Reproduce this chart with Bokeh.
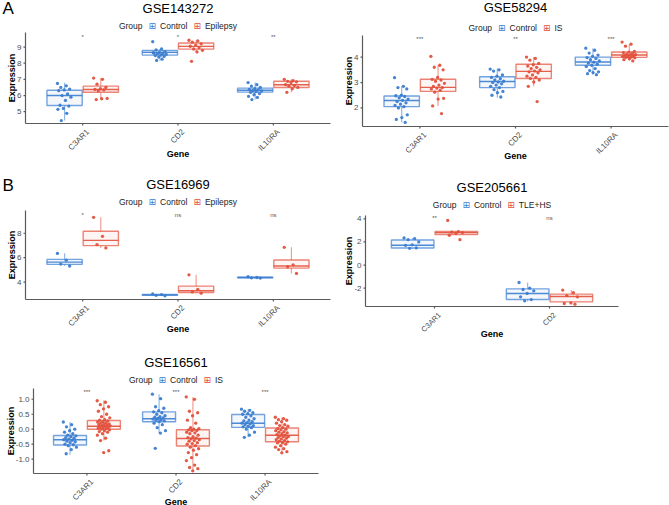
import math
from bokeh.plotting import figure
from bokeh.models import Range1d, ColumnDataSource
from bokeh.layouts import column, row
from bokeh.embed import file_html
from bokeh.resources import INLINE
from bokeh.core.properties import value

FONT = "Liberation Sans"
ICON_FONT = "DejaVu Sans"
BLUE = "#3B7DD0"
RED = "#E2513C"
AXIS = "#5A5A5A"
TICKTXT = "#4D4D4D"

GENES3 = ["C3AR1", "CD2", "IL10RA"]
GENES2 = ["C3AR1", "CD2"]

# ---------------- GSE143272 ----------------
A1_groups = ["Control", "Epilepsy"]
A1_sig = ["*", "*", "**"]
A1_yrange = [4.27, 9.90]
A1_yticks = [5, 6, 7, 8, 9]
# (lower whisker, q1, median, q3, upper whisker) per gene
A1_control_box = [(4.46, 5.38, 6.00, 6.33, 6.79), (8.17, 8.50, 8.67, 8.79, 8.88), (5.75, 6.21, 6.33, 6.46, 6.80)]
A1_case_box = [(5.75, 6.20, 6.37, 6.58, 7.08), (8.70, 8.87, 9.04, 9.25, 9.42), (6.21, 6.50, 6.67, 6.88, 7.00)]
A1_control_pts = [
    [6.75, 6.6, 6.5, 6.4, 6.35, 6.3, 6.1, 6.0, 5.9, 5.7, 5.4, 5.35, 5.2, 5.15, 4.9, 4.45],
    [9.33, 8.88, 8.83, 8.72, 8.67, 8.63, 8.6, 8.58, 8.55, 8.5, 8.47, 8.42, 8.38, 8.65, 8.25, 8.17],
    [6.8, 6.67, 6.58, 6.5, 6.42, 6.38, 6.35, 6.3, 6.28, 6.25, 6.2, 6.12, 6.05, 5.95, 5.88, 5.75],
]
A1_case_pts = [
    [7.08, 7.0, 6.7, 6.5, 6.42, 6.38, 6.35, 6.3, 5.82, 5.8, 5.75],
    [9.42, 9.38, 9.3, 9.2, 9.12, 9.05, 8.95, 8.88, 8.8, 8.7, 8.12],
    [7.0, 6.92, 6.88, 6.85, 6.8, 6.67, 6.62, 6.58, 6.5, 6.42, 6.2],
]

# ---------------- GSE58294 ----------------
A2_groups = ["Control", "IS"]
A2_sig = ["***", "**", "***"]
A2_yrange = [1.27, 4.85]
A2_yticks = [2, 3, 4]
A2_control_box = [(1.43, 2.05, 2.29, 2.47, 2.85), (2.40, 2.80, 3.04, 3.23, 3.55), (3.31, 3.68, 3.81, 4.00, 4.35)]
A2_case_box = [(2.08, 2.65, 2.81, 3.13, 3.68), (2.85, 3.16, 3.44, 3.72, 4.00), (3.85, 3.99, 4.08, 4.20, 4.51)]
A2_control_pts = [
    [3.19, 2.85, 2.8, 2.75, 2.5, 2.48, 2.45, 2.4, 2.35, 2.3, 2.25, 2.2, 2.15, 2.1, 2.05, 2.0, 1.73, 1.62, 1.55, 1.43],
    [3.53, 3.5, 3.45, 3.3, 3.25, 3.2, 3.15, 3.1, 3.05, 3.02, 3.0, 2.95, 2.9, 2.85, 2.8, 2.72, 2.65, 2.6, 2.5, 2.43],
    [4.35, 4.27, 4.16, 4.08, 4.03, 3.98, 3.95, 3.9, 3.85, 3.8, 3.76, 3.72, 3.68, 3.63, 3.55, 3.47, 3.42, 3.39, 3.35, 3.31],
]
A2_case_pts = [
    [4.03, 3.68, 3.6, 3.5, 3.2, 3.12, 3.1, 3.05, 2.97, 2.9, 2.85, 2.8, 2.78, 2.75, 2.7, 2.62, 2.38, 2.35, 2.08, 1.78],
    [4.0, 3.95, 3.88, 3.75, 3.7, 3.65, 3.6, 3.55, 3.5, 3.45, 3.42, 3.38, 3.3, 3.25, 3.2, 3.16, 3.1, 3.02, 2.85, 2.25],
    [4.59, 4.51, 4.43, 4.22, 4.2, 4.18, 4.15, 4.12, 4.1, 4.09, 4.07, 4.05, 4.03, 4.02, 4.0, 3.99, 3.97, 3.94, 3.9, 3.85],
]

# ---------------- GSE16969 ----------------
B1_groups = ["Control", "Epilepsy"]
B1_sig = ["*", "ns", "ns"]
B1_yrange = [2.58, 9.86]
B1_yticks = [4, 6, 8]
B1_control_box = [(5.32, 5.45, 5.64, 5.86, 6.36), (2.88, 2.92, 2.96, 3.00, 3.04), (4.33, 4.36, 4.38, 4.40, 4.44)]
B1_case_box = [(6.80, 6.99, 7.42, 8.16, 9.30), (3.10, 3.15, 3.29, 3.67, 4.60), (4.71, 5.15, 5.32, 5.81, 6.85)]
B1_control_pts = [[6.35, 5.8, 5.48, 5.32], [3.04, 2.98, 2.92, 2.88], [4.44, 4.38, 4.35, 4.33]]
B1_case_pts = [[9.3, 7.75, 7.07, 6.8], [4.6, 3.4, 3.2, 3.1], [6.85, 5.42, 5.26, 4.71]]

# ---------------- GSE205661 ----------------
B2_groups = ["Control", "TLE+HS"]
B2_sig = ["**", "ns"]
B2_yrange = [-3.59, 4.29]
B2_yticks = [-2, 0, 2, 4]
B2_control_box = [(1.42, 1.48, 1.71, 2.17, 2.35), (-3.16, -2.99, -2.46, -2.06, -1.51)]
B2_case_box = [(2.58, 2.64, 2.81, 2.90, 2.92), (-3.39, -3.19, -2.72, -2.52, -2.17)]
B2_control_pts = [[2.35, 2.29, 2.2, 2.0, 1.75, 1.71, 1.48, 1.45],
                  [-1.51, -2.0, -2.12, -2.23, -2.46, -2.75, -2.99, -3.1]]
B2_case_pts = [[3.86, 2.9, 2.85, 2.81, 2.75, 2.58, 2.2],
               [-2.17, -2.4, -2.64, -2.75, -3.28, -3.33, -3.39]]

# ---------------- GSE16561 ----------------
B3_groups = ["Control", "IS"]
B3_sig = ["***", "***", "***"]
B3_yrange = [-1.48, 1.36]
B3_yticks = [-1.0, -0.5, 0.0, 0.5, 1.0]
B3_control_box = [(-0.85, -0.53, -0.35, -0.21, 0.24), (-0.13, 0.25, 0.35, 0.58, 1.17), (-0.27, 0.06, 0.20, 0.49, 0.67)]
B3_case_box = [(-0.38, 0.00, 0.10, 0.29, 0.97), (-1.39, -0.56, -0.31, -0.02, 1.08), (-0.79, -0.42, -0.20, 0.04, 0.40)]
B3_control_pts = [
    [0.24, 0.15, 0.08, 0.0, -0.05, -0.1, -0.15, -0.2, -0.22, -0.25, -0.28, -0.3, -0.33, -0.35, -0.37, -0.4,
     -0.42, -0.45, -0.5, -0.52, -0.55, -0.6, -0.68, -0.82],
    [1.17, 1.02, 0.75, 0.7, 0.62, 0.58, 0.55, 0.5, 0.45, 0.42, 0.4, 0.38, 0.36, 0.34, 0.32, 0.3, 0.28, 0.25,
     0.2, 0.15, 0.05, -0.05, -0.13, -0.64],
    [0.67, 0.63, 0.6, 0.55, 0.52, 0.5, 0.45, 0.4, 0.35, 0.3, 0.28, 0.25, 0.22, 0.2, 0.18, 0.15, 0.12, 0.1,
     0.08, 0.05, 0.0, -0.1, -0.2, -0.27],
]
B3_case_pts = [
    [0.95, 0.9, 0.82, 0.75, 0.68, 0.6, 0.5, 0.42, 0.38, 0.32, 0.3, 0.28, 0.25, 0.24, 0.22, 0.2, 0.18, 0.16,
     0.15, 0.14, 0.12, 0.11, 0.1, 0.08, 0.06, 0.05, 0.03, 0.02, 0.0, -0.02, -0.05, -0.08, -0.1, -0.15, -0.2,
     -0.3, -0.38, -0.72, -0.78],
    [1.08, 1.0, 0.6, 0.55, 0.45, 0.3, 0.2, 0.05, 0.02, 0.0, -0.02, -0.04, -0.05, -0.1, -0.12, -0.15, -0.2,
     -0.25, -0.28, -0.3, -0.32, -0.35, -0.38, -0.4, -0.45, -0.48, -0.5, -0.55, -0.6, -0.65, -0.7, -0.78,
     -0.85, -0.95, -1.05, -1.2, -1.28, -1.32, -1.39],
    [0.4, 0.35, 0.32, 0.3, 0.25, 0.2, 0.15, 0.12, 0.1, 0.05, 0.02, 0.0, -0.02, -0.05, -0.08, -0.1, -0.12,
     -0.15, -0.18, -0.2, -0.22, -0.24, -0.25, -0.28, -0.3, -0.33, -0.35, -0.38, -0.4, -0.42, -0.45, -0.46,
     -0.5, -0.55, -0.6, -0.65, -0.68, -0.75, -0.79],
]

GROUP_OFFSET = 0.19
BOX_HALF = 0.185
JITTER = 0.075

# approximate Arial / Liberation Sans advance widths (per em) used to lay out the key
CHAR_W = {"G": .778, "r": .333, "o": .556, "u": .556, "p": .556, "C": .722, "n": .556, "t": .278,
          "l": .222, "E": .667, "i": .222, "e": .556, "s": .5, "y": .5, "I": .278, "S": .667,
          "T": .611, "L": .556, "H": .722, "+": .584, "-": .333, ".": .278}


def text_w(s, size):
    return sum(CHAR_W.get(c, 0.556) for c in s) * size


def jitter_offsets(n):
    return [(((k * 0.6180339887) % 1.0) - 0.5) * 2 * JITTER for k in range(n)]


def make_panel(title, genes, groups, sig, box_a, box_b, pts_a, pts_b, yrange, yticks,
               width, height, bl, br, bt, bb, title_y, legend_y, gene_dy,
               letter=None, letter_y=8, yfmt="%d", tick_size=8.0):
    n = len(genes)
    xlo, xhi = 0.4, n + 0.6
    fw = width - bl - br
    fh = height - bt - bb
    xspan = xhi - xlo
    yspan = yrange[1] - yrange[0]
    dxp = xspan / fw
    dyp = yspan / fh
    # the drawing area spans the whole figure; the panel region keeps the chart's own scale
    p = figure(width=width, height=height,
               x_range=Range1d(xlo - bl * dxp, xhi + br * dxp),
               y_range=Range1d(yrange[0] - bb * dyp, yrange[1] + bt * dyp),
               output_backend="svg", toolbar_location=None,
               x_axis_location=None, y_axis_location=None, min_border=0)
    p.min_border_left = 0
    p.min_border_right = 0
    p.min_border_top = 0
    p.min_border_bottom = 0
    p.outline_line_color = None
    p.grid.visible = False
    p.background_fill_color = "white"
    p.border_fill_color = "white"
    p.title.visible = False

    def at(X, Y):
        return xlo + (X - bl) * dxp, yrange[1] - (Y - bt) * dyp

    def txt(X, Y, s, size, align="left", baseline="middle", color="#000000",
            font=FONT, style="normal", angle=0.0):
        x, y = at(X, Y)
        p.text(x=[x], y=[y], text=[s], text_font=value(font), text_font_size=f"{size}px",
               text_color=color, text_align=align, text_baseline=baseline,
               text_font_style=style, angle=angle)

    # boxes, whiskers, medians, jittered points
    for gi, (box, pts, color) in enumerate([(box_a, pts_a, BLUE), (box_b, pts_b, RED)]):
        off = -GROUP_OFFSET if gi == 0 else GROUP_OFFSET
        xs = [i + 1 + off for i in range(n)]
        src = ColumnDataSource(dict(
            x=xs, x0=[x - BOX_HALF for x in xs], x1=[x + BOX_HALF for x in xs],
            lo=[b[0] for b in box], q1=[b[1] for b in box], med=[b[2] for b in box],
            q3=[b[3] for b in box], hi=[b[4] for b in box]))
        p.segment(x0="x", y0="q3", x1="x", y1="hi", source=src,
                  line_color=color, line_width=1.2, line_alpha=0.55)
        p.segment(x0="x", y0="lo", x1="x", y1="q1", source=src,
                  line_color=color, line_width=1.2, line_alpha=0.55)
        p.vbar(x="x", width=2 * BOX_HALF, bottom="q1", top="q3", source=src,
               fill_color=color, fill_alpha=0.06, line_color=color,
               line_width=1.4, line_alpha=0.7)
        p.segment(x0="x0", y0="med", x1="x1", y1="med", source=src,
                  line_color=color, line_width=1.4, line_alpha=0.9)
        px, py = [], []
        for i, vals in enumerate(pts):
            jit = jitter_offsets(len(vals))
            px += [i + 1 + off + j for j in jit]
            py += list(vals)
        p.scatter(x=px, y=py, size=3.3, fill_color=color, line_color=None, fill_alpha=0.95)

    # significance labels
    all_vals = [v for lst in (pts_a + pts_b) for v in lst]
    vmax, vmin = max(all_vals), min(all_vals)
    sig_y = vmax + 0.035 * (vmax - vmin)
    ssrc = ColumnDataSource(dict(x=list(range(1, n + 1)), y=[sig_y] * n, t=sig))
    p.text(x="x", y="y", text="t", source=ssrc, text_font=value(FONT), text_font_size="6px",
           text_color="#555555", text_align="center", text_baseline="middle")

    # axes: lines, ticks and tick labels on the panel's own scale
    tick_px = 2
    p.segment(x0=[xlo, xlo], y0=[yrange[0], yrange[0]], x1=[xlo, xhi], y1=[yrange[1], yrange[0]],
              line_color=AXIS, line_width=1.2)
    p.segment(x0=[xlo - tick_px * dxp] * len(yticks), y0=yticks, x1=[xlo] * len(yticks), y1=yticks,
              line_color=AXIS, line_width=1.2)
    gx = list(range(1, n + 1))
    p.segment(x0=gx, y0=[yrange[0]] * n, x1=gx, y1=[yrange[0] - tick_px * dyp] * n,
              line_color=AXIS, line_width=1.2)
    ylabels = [yfmt % t for t in yticks]
    p.text(x=[xlo - 4 * dxp] * len(yticks), y=yticks, text=ylabels, text_font=value(FONT),
           text_font_size="8px", text_color=TICKTXT, text_align="right", text_baseline="middle")
    maxw = max(text_w(s, 8) for s in ylabels)

    axis_Y = height - bb
    cx = bl + fw / 2.0
    # rotated gene names under the ticks
    for i, g in enumerate(genes):
        tick_X = bl + (i + 1 - xlo) / dxp
        txt(tick_X + 2, axis_Y + 4, g, tick_size, align="right", baseline="top",
            color=TICKTXT, angle=math.pi / 4)
    txt(cx, axis_Y + gene_dy, "Gene", 9, align="center", style="bold")
    txt(bl - maxw - 9, bt + fh / 2.0, "Expression", 9, align="center", style="bold",
        angle=math.pi / 2)

    # title
    txt(cx, title_y, title, 13, align="center")

    # key: Group [icon] Control [icon] Case
    ls = 8.5
    icon_w = 7.5
    parts_w = (text_w("Group", ls) + 6 + icon_w + 4 + text_w(groups[0], ls) + 6 + icon_w + 4
               + text_w(groups[1], ls))
    X = cx - parts_w / 2.0
    txt(X, legend_y, "Group", ls, color="#222222")
    X += text_w("Group", ls) + 6
    txt(X + icon_w / 2, legend_y, "\u229e", 9, align="center", color=BLUE, font=ICON_FONT)
    X += icon_w + 4
    txt(X, legend_y, groups[0], ls, color="#222222")
    X += text_w(groups[0], ls) + 6
    txt(X + icon_w / 2, legend_y, "\u229e", 9, align="center", color=RED, font=ICON_FONT)
    X += icon_w + 4
    txt(X, legend_y, groups[1], ls, color="#222222")

    if letter:
        txt(2, letter_y, letter, 17)
    return p


pA1 = make_panel("GSE143272", GENES3, A1_groups, A1_sig, A1_control_box, A1_case_box,
                 A1_control_pts, A1_case_pts, A1_yrange, A1_yticks,
                 335, 165, 25, 5, 32, 42, title_y=8, legend_y=25, gene_dy=30,
                 letter="A", letter_y=8)
pA2 = make_panel("GSE58294", GENES3, A2_groups, A2_sig, A2_control_box, A2_case_box,
                 A2_control_pts, A2_case_pts, A2_yrange, A2_yticks,
                 334, 165, 27, 1, 35, 39, title_y=7, legend_y=27, gene_dy=29)
pB1 = make_panel("GSE16969", GENES3, B1_groups, B1_sig, B1_control_box, B1_case_box,
                 B1_control_pts, B1_case_pts, B1_yrange, B1_yticks,
                 335, 175, 25, 5, 45, 41, title_y=19, legend_y=36, gene_dy=29,
                 letter="B", letter_y=20)
pB2 = make_panel("GSE205661", GENES2, B2_groups, B2_sig, B2_control_box, B2_case_box,
                 B2_control_pts, B2_case_pts, B2_yrange, B2_yticks,
                 334, 180, 30, 51, 50, 39, title_y=22, legend_y=39, gene_dy=27, tick_size=7.5)
pB3 = make_panel("GSE16561", GENES3, B3_groups, B3_sig, B3_control_box, B3_case_box,
                 B3_control_pts, B3_case_pts, B3_yrange, B3_yticks,
                 335, 165, 33, 17, 48, 32, title_y=22, legend_y=39, gene_dy=28, yfmt="%.1f")

layout = column(row(pA1, pA2), row(column(pB1, pB3), pB2))

open("out.html", "w").write(file_html(layout, INLINE))
